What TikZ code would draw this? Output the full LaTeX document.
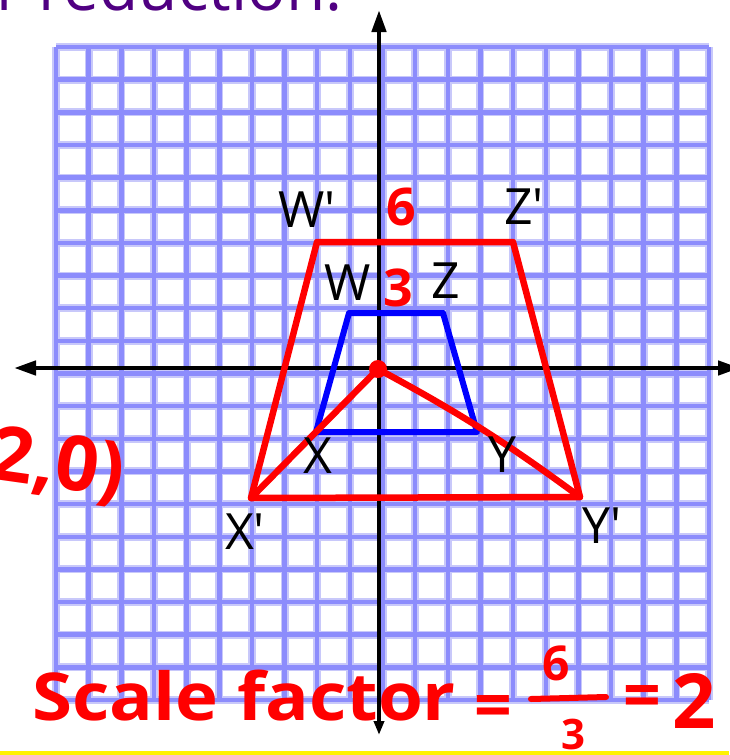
\documentclass[tikz,border=0pt]{standalone}
\usepackage{fontspec}
\setmainfont{Open Sans}
\newfontfamily\lblfont{Open Sans}
\usetikzlibrary{arrows.meta}
\definecolor{gridcore}{RGB}{140,140,252}
\definecolor{gridhalo}{RGB}{200,200,250}
\definecolor{penred}{RGB}{255,0,0}
\definecolor{penblue}{RGB}{0,0,255}
\definecolor{titlepurple}{RGB}{80,0,130}
\tikzset{
  gridhalo/.style={draw=gridhalo,line width=8pt},
  gridcore/.style={draw=gridcore,line width=4.5pt},
  axis/.style={draw=black,line width=4.5pt},
  redshape/.style={draw=penred,line width=6.5pt,line join=round,line cap=round},
  blueshape/.style={draw=penblue,line width=6pt,line join=round,line cap=round},
  lbl/.style={font=\lblfont\fontsize{50}{50}\selectfont,text=black,inner sep=0pt},
  redtxt/.style={font=\fontsize{52}{52}\selectfont\bfseries,text=penred,inner sep=0pt},
  handtxt/.style={font=\fontsize{66}{66}\selectfont\bfseries,text=penred,inner sep=0pt},
}
\begin{document}
\begin{tikzpicture}[x=1pt,y=-1pt]
\useasboundingbox (0,0) rectangle (729,755);
% grid
\foreach \k in {0,...,20}{
  \pgfmathsetmacro\gx{56+32.65*\k}
  \pgfmathsetmacro\gy{47+32.65*\k}
  \draw[gridhalo] (\gx,47) -- (\gx,700);
  \draw[gridhalo] (56,\gy) -- (709,\gy);
}
\foreach \k in {0,...,20}{
  \pgfmathsetmacro\gx{56+32.65*\k}
  \pgfmathsetmacro\gy{47+32.65*\k}
  \draw[gridcore] (\gx,47) -- (\gx,700);
  \draw[gridcore] (56,\gy) -- (709,\gy);
}
% axes
\coordinate (yb) at (379,735);
\coordinate (yt) at (379,10);
\coordinate (xl) at (14,368);
\coordinate (xr) at (740,368);
\draw[axis,{Triangle[length=14pt,width=10pt]}-{Triangle[length=22pt,width=14pt]}] (yb) -- (yt);
\draw[axis,{Triangle[length=22pt,width=14pt]}-{Triangle[length=22pt,width=14pt]}] (xl) -- (xr);
% blue trapezoid
\coordinate (W) at (349,313);
\coordinate (Z) at (443,313);
\coordinate (Y) at (477,432);
\coordinate (X) at (316,432);
\draw[blueshape] (W) -- (Z) -- (Y) -- (X) -- cycle;
% red trapezoid
\coordinate (Wp) at (317,242);
\coordinate (Zp) at (513,242);
\coordinate (Yp) at (580,497);
\coordinate (Xp) at (251,498);
\draw[redshape] (Wp) -- (Zp) -- (Yp) -- (Xp) -- cycle;
% center lines
\coordinate (O) at (378,369);
\draw[redshape] (O) -- (Xp);
\draw[redshape] (O) to[bend left=4] (Yp);
\fill[penred] (O) circle (9pt);
% labels
\node[lbl] (lWp) at (307,210) {W'};
\node[lbl] (lZp) at (524,207) {Z'};
\node[lbl] (lW) at (348,283) {W};
\node[lbl] (lZ) at (446,281) {Z};
\node[lbl] (lX) at (318,456) {X};
\node[lbl] (lY) at (502,455) {Y};
\node[lbl] (lXp) at (245,532) {X'};
\node[lbl] (lYp) at (602,526) {Y'};
\node[redtxt] (six) at (401,207) {6};
\node[redtxt] (three) at (398,288) {3};
% title
\node[font=\fontsize{64}{64}\selectfont,text=titlepurple,anchor=base west,inner sep=0pt] (title) at (-4,10) {r reduction.};
% (2,0)
\node[handtxt,anchor=east,rotate=-8,font=\fontsize{76}{76}\selectfont\bfseries] (pt) at (124,476) {(2,0)};
% scale factor
\node[handtxt,anchor=base west,xscale=1.1] (sf) at (32,720) {Scale factor};
\node[handtxt] (eq1) at (493,712) {=};
\node[font=\fontsize{48}{48}\selectfont\bfseries,text=penred,inner sep=0pt] (num) at (556,663) {6};
\draw[penred,line width=6pt,line cap=round] (531,699) -- (606,697);
\node[font=\fontsize{42}{42}\selectfont\bfseries,text=penred,inner sep=0pt] (den) at (573,734) {3};
\node[handtxt] (eq2) at (642,702) {=};
\node[font=\fontsize{76}{76}\selectfont\bfseries,text=penred,inner sep=0pt,anchor=west] (two) at (672,701) {2};
% yellow line
\fill[yellow] (0,751) rectangle (729,755);
\end{tikzpicture}
\end{document}
